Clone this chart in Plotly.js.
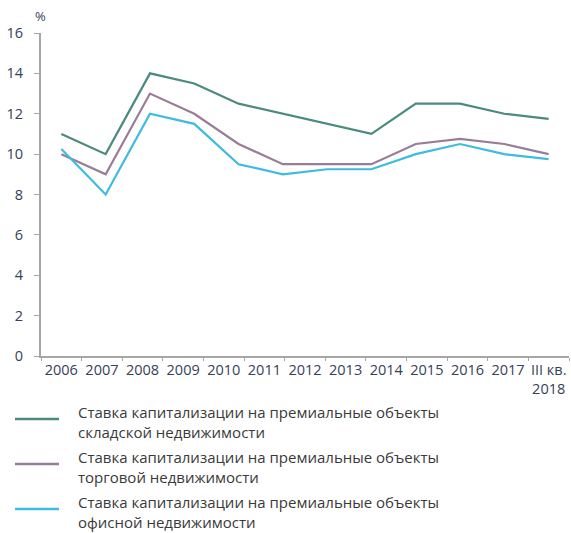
<!DOCTYPE html>
<html>
<head>
<meta charset="utf-8">
<script src="https://cdn.plot.ly/plotly-3.0.1.min.js"></script>
<style>
  html, body { margin: 0; padding: 0; background: #fff; }
  #chart { width: 571px; height: 533px; }
</style>
</head>
<body>
<div id="chart"></div>
<script>
// Period labels along the horizontal axis
const periods = ['2006', '2007', '2008', '2009', '2010', '2011', '2012',
                 '2013', '2014', '2015', '2016', '2017', 'III кв.<br>2018'];

// Capitalization rates, %, one value per vertex of each line
const warehouseRates = [11, 10, 14, 13.5, 12.5, 12, 11.5, 11, 12.5, 12.5, 12, 11.75];
const retailRates    = [10, 9, 13, 12, 10.5, 9.5, 9.5, 9.5, 10.5, 10.75, 10.5, 10];
const officeRates    = [10.25, 8, 12, 11.5, 9.5, 9, 9.25, 9.25, 10, 10.5, 10, 9.75];

const seriesNames = [
  'Ставка капитализации на премиальные объекты<br>складской недвижимости',
  'Ставка капитализации на премиальные объекты<br>торговой недвижимости',
  'Ставка капитализации на премиальные объекты<br>офисной недвижимости'
];
const seriesValues = [warehouseRates, retailRates, officeRates];
const seriesColors = ['#4b8a7d', '#9b7c96', '#3dbbe1'];

// Plot frame in pixels
const W = 571, H = 533;
const M = { l: 41, r: 2, t: 33, b: 177 };
const plotW = W - M.l - M.r, plotH = H - M.t - M.b;
const px = x => (x - M.l) / plotW;
const py = y => (H - M.b - y) / plotH;

const traces = [];

// Invisible carrier trace so the category axis knows its labels
traces.push({
  x: periods,
  y: periods.map(() => null),
  type: 'scatter',
  mode: 'lines',
  xaxis: 'x',
  yaxis: 'y',
  showlegend: false,
  hoverinfo: 'skip'
});

seriesValues.forEach((vals, k) => {
  traces.push({
    x: vals.map((_, i) => i),
    y: vals,
    type: 'scatter',
    mode: 'lines',
    name: seriesNames[k],
    line: { color: seriesColors[k], width: 2.2 },
    xaxis: 'x2',
    yaxis: 'y',
    showlegend: false
  });
});

const nPts = warehouseRates.length;
const pad = 0.46;

// Legend drawn as key lines with wrapped captions
const legendKeyY = [419, 464, 509];
const shapes = [], annotations = [];
seriesNames.forEach((name, k) => {
  shapes.push({
    type: 'line', xref: 'paper', yref: 'paper',
    x0: px(15), x1: px(59), y0: py(legendKeyY[k]), y1: py(legendKeyY[k]),
    line: { color: seriesColors[k], width: 2.5 }
  });
  annotations.push({
    xref: 'paper', yref: 'paper',
    x: px(76), y: py(legendKeyY[k] + 3),
    xanchor: 'left', yanchor: 'middle', align: 'left',
    text: name, showarrow: false,
    font: { family: 'Open Sans, sans-serif', size: 15, color: '#3a3a3a' }
  });
});

// Unit label above the value axis
annotations.push({
  xref: 'paper', yref: 'paper', x: 0, y: 1,
  xanchor: 'center', yanchor: 'bottom', xshift: -1, yshift: 6,
  text: '%', showarrow: false,
  font: { family: 'Open Sans, sans-serif', size: 13, color: '#36415a' }
});

const tickFont = { family: 'Open Sans, sans-serif', size: 14.5, color: '#36415a' };

const layout = {
  width: W, height: H,
  margin: M,
  paper_bgcolor: '#fff', plot_bgcolor: '#fff',
  showlegend: false,
  xaxis: {
    type: 'category',
    categoryorder: 'array', categoryarray: periods,
    range: [-0.5, periods.length - 0.5],
    tickson: 'boundaries',
    ticks: 'outside', ticklen: 3, tickwidth: 1, tickcolor: '#a6a6a6',
    showline: true, linecolor: '#a6a6a6', linewidth: 2,
    showgrid: false, zeroline: false,
    tickfont: tickFont, tickangle: 0,
    fixedrange: true
  },
  xaxis2: {
    overlaying: 'x',
    range: [-pad, nPts - 1 + pad],
    visible: false,
    fixedrange: true
  },
  yaxis: {
    range: [0, 16],
    dtick: 2, tick0: 0,
    ticks: 'outside', ticklen: 5, tickwidth: 1, tickcolor: '#a6a6a6',
    showline: true, linecolor: '#a6a6a6', linewidth: 2,
    showgrid: false, zeroline: false,
    tickfont: tickFont,
    ticklabelstandoff: 8,
    fixedrange: true
  },
  shapes: shapes,
  annotations: annotations
};

Plotly.newPlot('chart', traces, layout, { displayModeBar: false, staticPlot: true });
</script>
</body>
</html>
